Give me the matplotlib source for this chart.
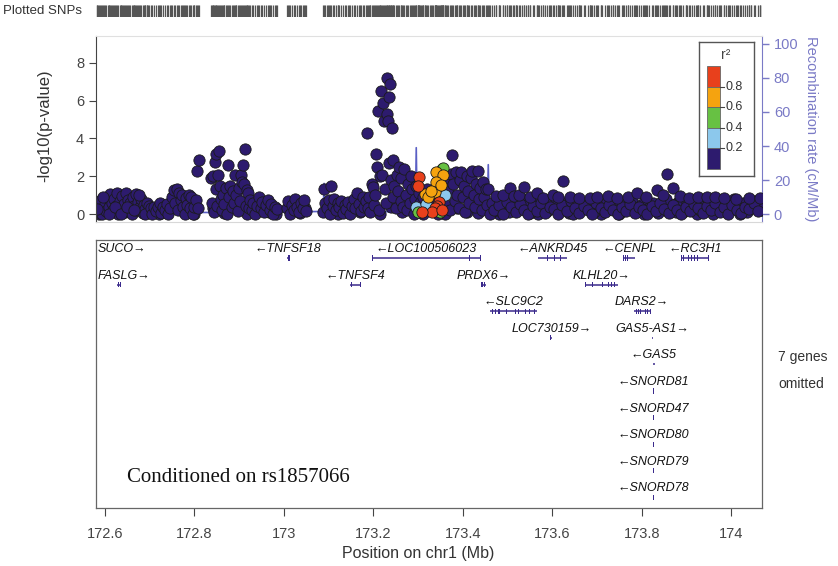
import numpy as np
import matplotlib
matplotlib.use("Agg")
import matplotlib.pyplot as plt
from matplotlib.patches import Rectangle

plt.rcParams["font.family"] = ["Liberation Sans", "DejaVu Sans"]

# ---- SNPs with r2 < 0.2 (position Mb, -log10 p) ----
pos_left = [172.582, 172.585, 172.588, 172.591, 172.594, 172.597, 172.600, 172.603, 172.606, 172.609,
            172.612, 172.615, 172.618, 172.621, 172.624, 172.627, 172.630, 172.633, 172.636, 172.639,
            172.642, 172.645, 172.648, 172.651, 172.654, 172.657, 172.660, 172.663, 172.666, 172.669,
            172.672, 172.675, 172.678, 172.681, 172.684, 172.687, 172.690, 172.693, 172.696, 172.699,
            172.583, 172.596, 172.610, 172.623, 172.637, 172.650, 172.664, 172.677, 172.690]
p_left = [0.6, 0.1, 0.4, 0.75, 0.0, 0.3, 0.55, 0.15, 0.85, 0.4,
          1.05, 0.6, 0.2, 0.8, 0.45, 1.1, 0.0, 0.7, 0.3, 0.95,
          0.55, 0.1, 1.1, 0.75, 0.35, 0.6, 0.0, 0.9, 0.45, 1.05,
          0.2, 0.65, 0.35, 0.8, 0.05, 0.5, 0.25, 0.6, 0.1, 0.45,
          0.25, 0.9, 0.0, 0.35, 0.0, 0.4, 0.2, 1.0, 0.0]

pos_b = [172.702, 172.706, 172.710, 172.714, 172.718, 172.722, 172.726, 172.730, 172.734, 172.738,
         172.742, 172.746, 172.750, 172.754, 172.757, 172.760, 172.763, 172.766, 172.769, 172.772,
         172.775, 172.778, 172.781, 172.784, 172.787, 172.790, 172.793, 172.796, 172.799]
p_b = [0.3, 0.0, 0.4, 0.15, 0.35, 0.6, 0.05, 0.4, 0.2, 0.55,
       0.0, 0.3, 0.9, 1.25, 0.6, 1.3, 0.2, 1.1, 0.75, 1.0,
       0.4, 0.0, 0.85, 0.5, 1.0, 0.3, 0.9, 0.0, 0.4]

pos_c = [172.803, 172.806, 172.810, 172.808, 172.838, 172.840, 172.842, 172.844, 172.846, 172.848,
         172.849, 172.851, 172.853, 172.855, 172.857, 172.859, 172.861, 172.864, 172.867, 172.870,
         172.873, 172.875, 172.877, 172.880, 172.883, 172.886, 172.889, 172.891, 172.894, 172.897,
         172.899, 172.902, 172.904, 172.906, 172.909, 172.911, 172.913, 172.915, 172.918, 172.920,
         172.922, 172.924]
p_c = [0.75, 2.3, 2.85, 0.3, 1.9, 0.6, 2.0, 0.1, 2.75, 1.3,
       3.2, 0.45, 2.05, 3.35, 1.5, 0.8, 0.2, 1.0, 0.55, 1.4,
       0.0, 2.6, 0.9, 1.5, 0.35, 1.2, 0.6, 2.05, 1.0, 0.15,
       1.4, 0.7, 2.05, 1.7, 2.6, 1.6, 3.45, 0.45, 1.25, 1.1,
       0.3, 0.75]

pos_d = [172.928, 172.932, 172.936, 172.940, 172.944, 172.948, 172.952, 172.956, 172.960, 172.964,
         172.968, 172.972, 172.976, 172.980, 172.984, 173.006, 173.010, 173.014, 173.018, 173.022,
         173.026, 173.030, 173.034, 173.038, 173.042, 173.046, 173.050]
p_d = [0.2, 0.6, 0.0, 0.45, 0.9, 0.3, 0.65, 0.1, 0.5, 0.75,
       0.2, 0.55, 0.0, 0.4, 0.25, 0.3, 0.7, 0.0, 0.5, 0.2,
       0.8, 0.4, 0.1, 0.6, 0.3, 0.75, 0.15]

pos_e = [173.088, 173.090, 173.093, 173.096, 173.100, 173.103, 173.106, 173.109, 173.112, 173.116,
         173.120, 173.124, 173.128, 173.132, 173.136, 173.140, 173.144, 173.148, 173.152, 173.156,
         173.160, 173.164, 173.168, 173.172, 173.176, 173.180, 173.184]
p_e = [0.1, 1.35, 0.6, 0.3, 0.75, 0.0, 1.5, 0.45, 0.8, 0.2,
       0.6, 0.35, 0.7, 0.05, 0.5, 0.25, 0.65, 0.0, 0.45, 0.8,
       0.3, 1.1, 0.55, 0.15, 0.9, 0.4, 0.7]

pos_peak = [173.186, 173.188, 173.190, 173.193, 173.196, 173.199, 173.201, 173.204, 173.207, 173.209,
            173.211, 173.213, 173.215, 173.218, 173.220, 173.222, 173.224, 173.226, 173.228, 173.230,
            173.231, 173.233, 173.234, 173.235, 173.237, 173.239, 173.241, 173.243, 173.245, 173.247,
            173.250, 173.253, 173.256, 173.258, 173.261]
p_peak = [4.3, 0.3, 0.9, 0.1, 1.6, 1.45, 0.5, 1.0, 3.2, 2.5,
          5.45, 0.2, 2.0, 6.5, 2.05, 5.9, 4.9, 1.3, 0.6, 7.2,
          5.3, 4.9, 2.7, 6.2, 6.9, 1.8, 4.55, 2.85, 0.9, 1.5,
          0.3, 2.05, 1.2, 2.5, 0.7]

pos_f = [173.263, 173.266, 173.269, 173.272, 173.275, 173.278, 173.281, 173.284, 173.287, 173.290,
         173.293, 173.296, 173.299, 173.302, 173.304, 173.306, 173.310, 173.316, 173.320, 173.326,
         173.334, 173.340, 173.344]
p_f = [1.9, 0.4, 2.4, 1.0, 0.2, 1.6, 0.6, 2.0, 1.3, 0.0,
       0.8, 1.5, 0.35, 1.1, 0.6, 0.1, 0.9, 0.45, 1.3, 0.2,
       0.3, 0.6, 0.0]

pos_g = [173.352, 173.356, 173.362, 173.365, 173.368, 173.371, 173.374, 173.377, 173.379, 173.382,
         173.385, 173.388, 173.391, 173.394, 173.397, 173.400, 173.403, 173.406, 173.409, 173.412,
         173.415, 173.418, 173.421, 173.424, 173.427, 173.430, 173.433, 173.436, 173.439, 173.442,
         173.445, 173.448, 173.451, 173.454, 173.457, 173.460]
p_g = [0.9, 1.5, 0.5, 1.9, 1.2, 0.2, 2.1, 3.1, 1.6, 0.7,
       2.2, 1.0, 0.3, 1.8, 2.25, 0.9, 1.5, 0.1, 2.0, 1.2,
       0.6, 1.9, 2.3, 1.0, 0.35, 1.6, 2.3, 0.8, 1.4, 0.2,
       1.7, 0.9, 1.3, 0.5, 1.3, 0.0]

pos_h = [173.465, 173.475, 173.484, 173.494, 173.503, 173.513, 173.522, 173.532, 173.541, 173.551,
         173.560, 173.570, 173.579, 173.589, 173.598, 173.608, 173.617, 173.627, 173.636, 173.646,
         173.655, 173.665, 173.674, 173.684, 173.693, 173.703, 173.712, 173.722, 173.731, 173.741,
         173.750, 173.760, 173.769, 173.779, 173.788, 173.798, 173.807, 173.817, 173.826, 173.836,
         173.845, 173.855, 173.864, 173.874, 173.883, 173.893, 173.902, 173.912, 173.921, 173.931,
         173.940, 173.950, 173.959, 173.969, 173.978, 173.988, 173.997, 174.007, 174.016, 174.026,
         174.035, 174.045, 174.054, 174.064]
p_h = [0.6, 0.2, 0.75, 0.4, 0.1, 0.65, 0.3, 0.8, 0.5, 0.05,
       0.7, 0.35, 0.6, 0.15, 0.55, 0.8, 0.25, 0.6, 0.4, 0.0,
       0.7, 0.3, 0.55, 0.75, 0.1, 0.5, 0.65, 0.2, 0.8, 0.45,
       0.0, 0.6, 0.35, 0.7, 0.15, 0.5, 0.75, 0.3, 0.6, 0.05,
       0.45, 0.8, 0.25, 0.55, 0.7, 0.1, 0.6, 0.35, 0.75, 0.2,
       0.5, 0.65, 0.0, 0.4, 0.7, 0.25, 0.55, 0.8, 0.3, 0.6,
       0.1, 0.5, 0.7, 0.4]

pos_i = [173.470, 173.480, 173.489, 173.499, 173.508, 173.518, 173.527, 173.537, 173.546, 173.556,
         173.565, 173.575, 173.584, 173.594, 173.603, 173.613, 173.622, 173.632, 173.641, 173.651,
         173.660, 173.670, 173.679, 173.689, 173.698, 173.708, 173.717, 173.727, 173.736, 173.746,
         173.755, 173.765, 173.774, 173.784, 173.793, 173.803, 173.812, 173.822, 173.831, 173.841,
         173.850, 173.860, 173.869, 173.879, 173.888, 173.898, 173.907, 173.917, 173.926, 173.936,
         173.945, 173.955, 173.964, 173.974, 173.983, 173.993, 174.002, 174.012, 174.021, 174.031,
         174.040, 174.050, 174.059]
p_i = [0.2, 0.5, 0.0, 0.65, 0.35, 0.1, 0.55, 0.2, 0.0, 0.45,
       0.15, 0.6, 0.05, 0.4, 0.25, 0.0, 0.5, 0.15, 0.7, 0.3,
       0.05, 0.45, 0.2, 0.0, 0.6, 0.3, 0.1, 0.5, 0.2, 0.0,
       0.4, 0.15, 0.55, 0.05, 0.35, 0.2, 0.0, 0.45, 0.15, 0.6,
       0.25, 0.05, 0.5, 0.2, 0.0, 0.4, 0.15, 0.55, 0.3, 0.05,
       0.45, 0.2, 0.6, 0.1, 0.35, 0.0, 0.5, 0.2, 0.05, 0.4,
       0.25, 0.6, 0.15]

pos_j = [173.475, 173.490, 173.506, 173.515, 173.525, 173.537, 173.550, 173.566, 173.580, 173.602,
         173.612, 173.624, 173.640, 173.660, 173.685, 173.700, 173.725, 173.745, 173.770, 173.790,
         173.810, 173.835, 173.848, 173.857, 173.870, 173.885, 173.905, 173.925, 173.946, 173.964,
         173.985, 174.010, 174.040, 174.065]
p_j = [0.95, 1.0, 1.4, 0.95, 1.0, 1.45, 0.9, 1.1, 0.85, 1.0,
       0.9, 1.75, 0.9, 0.85, 0.85, 0.9, 0.95, 0.85, 0.9, 1.1,
       0.9, 1.25, 1.0, 2.1, 1.4, 0.95, 0.85, 0.9, 0.9, 0.9,
       0.85, 0.8, 0.85, 0.85]

pos_k = [172.587, 172.613, 172.641, 172.668, 172.694, 172.720, 172.748, 172.776, 172.800, 172.841,
         172.866, 172.893, 172.917, 172.942, 172.966, 172.983, 173.012, 173.036, 173.048, 173.098,
         173.122, 173.146, 173.170, 173.192, 173.216, 173.240, 173.265, 173.289, 173.312, 173.337,
         173.360, 173.386, 173.410, 173.434, 173.458, 173.482, 173.500, 173.520, 173.545, 173.568,
         173.592, 173.615, 173.638, 173.662, 173.686, 173.710, 173.735, 173.758, 173.782, 173.806,
         173.830, 173.852, 173.877, 173.900, 173.924, 173.948, 173.972, 173.996, 174.020, 174.044,
         174.068]
p_k = [0.0, 0.3, 0.1, 0.5, 0.2, 0.0, 0.6, 0.1, 0.0, 0.3,
       0.05, 0.5, 0.0, 0.35, 0.1, 0.0, 0.4, 0.05, 0.3, 0.2,
       0.0, 0.45, 0.1, 0.25, 0.0, 0.4, 0.1, 0.3, 0.0, 0.15,
       0.0, 0.3, 0.1, 0.05, 0.5, 0.0, 0.3, 0.45, 0.1, 0.0,
       0.35, 0.2, 0.05, 0.5, 0.3, 0.0, 0.4, 0.15, 0.3, 0.0,
       0.45, 0.2, 0.1, 0.35, 0.0, 0.3, 0.15, 0.45, 0.0, 0.3,
       0.2]

# ---- SNPs in LD with the index SNP ----
pos_blue = [173.296, 173.360, 173.318]
p_blue = [0.37, 1.0, 0.55]
pos_green = [173.354, 173.356, 173.349, 173.300]
p_green = [2.4, 2.45, 0.1, 0.1]
pos_orange = [173.340, 173.356, 173.340, 173.338, 173.315, 173.322, 173.328, 173.352]
p_orange = [2.2, 2.05, 1.7, 1.15, 1.05, 0.9, 1.2, 1.55]
pos_red = [173.302, 173.300, 173.347, 173.343, 173.338, 173.331, 173.354, 173.309]
p_red = [1.95, 1.5, 0.65, 0.45, 0.3, 0.1, 0.2, 0.1]

# ---- recombination rate (cM/Mb) ----
rec_pos = [172.58, 172.75, 172.918, 172.92, 172.922, 173.088, 173.09, 173.092, 173.2, 173.294,
           173.296, 173.298, 173.40, 173.455, 173.457, 173.459, 173.70, 173.90, 174.07]
rec_rate = [0.5, 1.0, 0.8, 10, 1.0, 1.5, 18, 2.0, 1.5, 1.0,
            39, 3.0, 2.0, 2.0, 29, 1.5, 1.0, 0.8, 1.0]

# ---- genes: name, start, end, strand, row ----
gene_name = ["SUCO", "TNFSF18", "LOC100506023", "ANKRD45", "CENPL", "RC3H1",
             "FASLG", "TNFSF4", "PRDX6", "KLHL20", "SLC9C2", "DARS2",
             "LOC730159", "GAS5-AS1", "GAS5", "SNORD81", "SNORD47", "SNORD80",
             "SNORD79", "SNORD78"]
gene_start = [172.50, 173.007, 173.199, 173.568, 173.759, 173.889,
              172.627, 173.148, 173.441, 173.674, 173.461, 173.783,
              173.597, 173.823, 173.8255, 173.826, 173.826, 173.826,
              173.826, 173.826]
gene_end = [172.581, 173.013, 173.439, 173.633, 173.785, 173.950,
            172.635, 173.171, 173.452, 173.747, 173.566, 173.819,
            173.599, 173.825, 173.829, 173.8262, 173.8262, 173.8262,
            173.8262, 173.8262]
gene_strand = ["+", "-", "-", "-", "-", "-",
               "+", "-", "+", "+", "-", "+",
               "+", "+", "-", "-", "-", "-", "-", "-"]
gene_row = [0, 0, 0, 0, 0, 0, 1, 1, 1, 1, 2, 2, 3, 3, 4, 5, 6, 7, 8, 9]
gene_exons = {
    "TNFSF18": [173.007, 173.010, 173.013],
    "LOC100506023": [173.199, 173.415, 173.439],
    "ANKRD45": [173.568, 173.575, 173.590, 173.605, 173.618, 173.633],
    "CENPL": [173.759, 173.764, 173.768, 173.785],
    "RC3H1": [173.889, 173.893, 173.897, 173.905, 173.912, 173.918, 173.925, 173.935, 173.950],
    "FASLG": [172.627, 172.631, 172.635],
    "TNFSF4": [173.148, 173.152, 173.171],
    "PRDX6": [173.441, 173.445, 173.449, 173.452],
    "KLHL20": [173.674, 173.690, 173.712, 173.718, 173.725, 173.732, 173.740, 173.747],
    "SLC9C2": [173.461, 173.466, 173.474, 173.479, 173.483, 173.492, 173.498, 173.508,
               173.518, 173.525, 173.540, 173.550, 173.560, 173.566],
    "DARS2": [173.783, 173.788, 173.793, 173.798, 173.803, 173.808, 173.813, 173.819],
}

xticks = [172.6, 172.8, 173.0, 173.2, 173.4, 173.6, 173.8, 174.0]
xtick_labels = ["172.6", "172.8", "173", "173.2", "173.4", "173.6", "173.8", "174"]
r2_colors = ["#E8401C", "#F5A30F", "#67C143", "#8CC8EC", "#2D1B6E"]  # top -> bottom
r2_labels = ["0.8", "0.6", "0.4", "0.2"]

NAVY = "#2D1B6E"
REC = "#5A5FC4"
REC_AX = "#7A7AC6"
XMIN, XMAX = 172.58, 174.069

low_pos = (pos_k + pos_left + pos_b + pos_c + pos_d + pos_e + pos_peak + pos_f + pos_g
           + pos_h + pos_i + pos_j)
low_p = p_k + p_left + p_b + p_c + p_d + p_e + p_peak + p_f + p_g + p_h + p_i + p_j
all_pos = low_pos + pos_blue + pos_green + pos_orange + pos_red

W, H = 838, 566
fig = plt.figure(figsize=(W / 100, H / 100), dpi=100)


def px_axes(x0, y0, x1, y1):
    return fig.add_axes([x0 / W, 1 - y1 / H, (x1 - x0) / W, (y1 - y0) / H])


# plotted SNP strip
ax_s = px_axes(96, 5, 762, 17)
ax_s.vlines(all_pos, 0, 1, color="#555555", lw=0.9)
ax_s.set_xlim(XMIN, XMAX)
ax_s.set_ylim(0, 1)
ax_s.axis("off")
fig.text(3 / W, 1 - 11 / H, "Plotted SNPs", fontsize=9.5, color="#333333", va="center")

# association panel
ax = px_axes(96, 36, 762, 222)
ax2 = ax.twinx()
ax.set_zorder(ax2.get_zorder() + 1)
ax.patch.set_visible(False)

ax2.plot(rec_pos, rec_rate, color=REC, lw=1.2)
ax2.set_ylim(-4.7, 104.7)
ax2.set_yticks([0, 20, 40, 60, 80, 100])
ax2.tick_params(axis="y", colors=REC_AX, labelsize=10.5, length=5, width=1)
ax2.set_ylabel("Recombination rate (cM/Mb)", color=REC_AX, fontsize=10.5, rotation=270, labelpad=14)
for side in ["top", "bottom", "left"]:
    ax2.spines[side].set_visible(False)
ax2.spines["right"].set_color(REC_AX)

kw = dict(s=66, edgecolors="#1a1a1a", linewidths=0.6)
ax.scatter(low_pos, low_p, color=NAVY, **kw)
ax.scatter(pos_blue, p_blue, color=r2_colors[3], **kw)
ax.scatter(pos_green, p_green, color=r2_colors[2], **kw)
ax.scatter(pos_orange, p_orange, color=r2_colors[1], **kw)
ax.scatter(pos_red, p_red, color=r2_colors[0], **kw)

ax.set_xlim(XMIN, XMAX)
ax.set_ylim(-0.42, 9.42)
ax.set_yticks([0, 2, 4, 6, 8])
ax.set_xticks([])
ax.tick_params(axis="y", colors="#444444", labelsize=10.5, length=5, width=0.8)
ax.set_ylabel("-log10(p-value)", fontsize=12, color="#333333")
ax.yaxis.set_label_coords(-0.066, 0.52)
ax.spines["left"].set_color("#444444")
ax.spines["top"].set_color("#e0e0e0")
ax.spines["bottom"].set_color("#d8d8d8")
ax.spines["right"].set_visible(False)

# r2 legend
lax = px_axes(699, 42, 754, 176)
lax.set_xlim(0, 55)
lax.set_ylim(134, 0)
lax.set_xticks([])
lax.set_yticks([])
for sp in lax.spines.values():
    sp.set_color("#555555")
    sp.set_linewidth(1)
block = 20.6
for i, c in enumerate(r2_colors):
    lax.add_patch(Rectangle((8, 24 + i * block), 13, block, facecolor=c, edgecolor="#666666", lw=0.6))
for i, lab in enumerate(r2_labels):
    yb = 24 + (i + 1) * block
    lax.plot([21, 25], [yb, yb], color="#444444", lw=0.8)
    lax.text(26.5, yb, lab, fontsize=9, color="#333333", va="center", ha="left")
lax.text(27, 13, "r²", fontsize=10, color="#444444", ha="center", va="center")

# gene panel
axg = px_axes(96, 240, 762, 508)
axg.set_xlim(XMIN, XMAX)
axg.set_ylim(268, 0)
axg.set_yticks([])
for sp in axg.spines.values():
    sp.set_color("#666666")
    sp.set_linewidth(0.9)
row_step = 26.6
gcol = "#3A2A8C"
for name, s, e, st, r in zip(gene_name, gene_start, gene_end, gene_strand, gene_row):
    ybar = 18 + r * row_step
    ylab = 9 + r * row_step
    axg.plot([s, e], [ybar, ybar], color=gcol, lw=1.1, solid_capstyle="butt", clip_on=True)
    for ex in gene_exons.get(name, [s]):
        axg.add_patch(Rectangle((ex - 0.0009, ybar - 2.6), 0.0018, 5.2, facecolor=gcol,
                                edgecolor="none", clip_on=True))
    label = "\u2190" + name if st == "-" else name + "\u2192"
    mid = (s + e) / 2
    t = axg.text(mid, ylab, label, fontsize=9, style="italic", color="#111111",
                 ha="center", va="center")
    if name in ("SUCO", "FASLG"):
        t.set_x(XMIN + 0.004)
        t.set_ha("left")

axg.text(0.0465, 0.112, "Conditioned on rs1857066", transform=axg.transAxes,
         fontsize=15, family="Liberation Serif", color="#111111", va="center", ha="left")
fig.text(778 / W, 1 - 357 / H, "7 genes", fontsize=10, color="#333333", va="center")
fig.text(778 / W, 1 - 384 / H, "omitted", fontsize=10, color="#333333", va="center")

axg.set_xticks(xticks)
axg.set_xticklabels(xtick_labels)
axg.tick_params(axis="x", colors="#444444", labelsize=10.5, length=6, width=0.8, pad=8)
axg.set_xlabel("Position on chr1 (Mb)", fontsize=11.5, color="#333333")
axg.xaxis.set_label_coords((418 - 96) / 666, -0.14)

fig.savefig("out.png", dpi=100)
